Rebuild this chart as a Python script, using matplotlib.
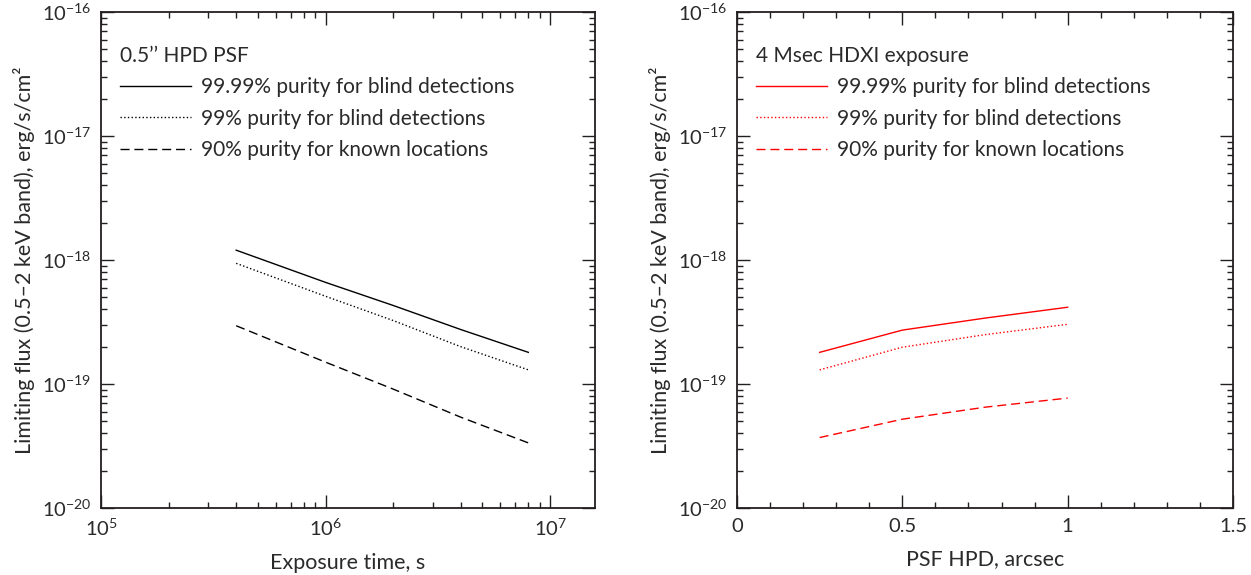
import numpy as np
import matplotlib
matplotlib.use("Agg")
import matplotlib.pyplot as plt
from matplotlib.ticker import LogLocator, MultipleLocator, FixedLocator, FixedFormatter

plt.rcParams['font.family'] = ['Lato', 'DejaVu Sans']
plt.rcParams['mathtext.fontset'] = 'custom'
plt.rcParams['mathtext.rm'] = 'Lato'
plt.rcParams['mathtext.it'] = 'Lato'
plt.rcParams['text.color'] = '#2a2a2a'
plt.rcParams['axes.labelcolor'] = '#2a2a2a'

# left panel: flux vs exposure time (0.5" HPD PSF)
exposure = [4e5, 1e6, 2e6, 4e6, 8e6]
flux_9999_t = [1.2e-18, 6.6e-19, 4.3e-19, 2.75e-19, 1.8e-19]
flux_99_t = [9.4e-19, 5.1e-19, 3.25e-19, 2.0e-19, 1.3e-19]
flux_90_t = [2.95e-19, 1.5e-19, 9.1e-20, 5.4e-20, 3.35e-20]

# right panel: flux vs PSF HPD (4 Msec exposure)
hpd = [0.25, 0.5, 0.75, 1.0]
flux_9999_p = [1.8e-19, 2.72e-19, 3.4e-19, 4.16e-19]
flux_99_p = [1.3e-19, 1.98e-19, 2.5e-19, 3.03e-19]
flux_90_p = [3.7e-20, 5.2e-20, 6.5e-20, 7.7e-20]

labels = ['99.99% purity for blind detections',
          '99% purity for blind detections',
          '90% purity for known locations']

ylab = 'Limiting flux (0.5\u20132 keV band), erg/s/cm\u00b2'
ytick_vals = [1e-20, 1e-19, 1e-18, 1e-17, 1e-16]
ytick_text = ['10$^{-20}$', '10$^{-19}$', '10$^{-18}$', '10$^{-17}$', '10$^{-16}$']

fig = plt.figure(figsize=(12.51, 5.75), dpi=100)
ax1 = fig.add_axes([101/1251, 1-508/575, 494/1251, 496/575])
ax2 = fig.add_axes([737/1251, 1-508/575, 496/1251, 496/575])


def style(ax):
    ax.set_yscale('log')
    ax.set_ylim(1e-20, 1e-16)
    ax.yaxis.set_major_locator(FixedLocator(ytick_vals))
    ax.yaxis.set_major_formatter(FixedFormatter(ytick_text))
    ax.yaxis.set_minor_locator(LogLocator(base=10, subs=np.arange(2, 10)))
    ax.yaxis.set_minor_formatter(plt.NullFormatter())
    ax.tick_params(which='both', direction='in', top=True, right=True,
                   width=1.0, colors='#231f20', labelsize=14.5, pad=7)
    ax.tick_params(which='both', labelcolor='#2a2a2a')
    ax.tick_params(which='major', length=9.5)
    ax.tick_params(which='minor', length=4.5)
    for s in ax.spines.values():
        s.set_linewidth(1.3)
        s.set_color('#231f20')
    ax.set_ylabel(ylab, fontsize=15.5, labelpad=5)


def add_legend(ax, title):
    leg = ax.legend(loc='upper left', bbox_to_anchor=(0.0, 0.97), title=title,
                    frameon=False, fontsize=15, title_fontsize=15,
                    handlelength=3.4, handletextpad=0.5, labelspacing=0.55,
                    alignment='left')
    return leg


style(ax1)
ax1.set_xscale('log')
ax1.set_xlim(1e5, 10**7.2)
ax1.xaxis.set_major_locator(FixedLocator([1e5, 1e6, 1e7]))
ax1.xaxis.set_major_formatter(FixedFormatter(['10$^{5}$', '10$^{6}$', '10$^{7}$']))
ax1.xaxis.set_minor_locator(LogLocator(base=10, subs=np.arange(2, 10)))
ax1.xaxis.set_minor_formatter(plt.NullFormatter())
ax1.plot(exposure, flux_9999_t, color='black', lw=1.0, label=labels[0])
ax1.plot(exposure, flux_99_t, color='black', lw=1.0, ls=':', label=labels[1])
ax1.plot(exposure, flux_90_t, color='black', lw=1.0, ls=(0, (6.5, 3.5)), label=labels[2])
ax1.set_xlabel('Exposure time, s', fontsize=15.5, labelpad=10)
add_legend(ax1, '0.5\u2019\u2019 HPD PSF')

style(ax2)
ax2.set_xlim(0, 1.5)
ax2.xaxis.set_major_locator(FixedLocator([0, 0.5, 1, 1.5]))
ax2.xaxis.set_major_formatter(FixedFormatter(['0', '0.5', '1', '1.5']))
ax2.xaxis.set_minor_locator(MultipleLocator(0.1))
ax2.plot(hpd, flux_9999_p, color='red', lw=1.0, label=labels[0])
ax2.plot(hpd, flux_99_p, color='red', lw=1.0, ls=':', label=labels[1])
ax2.plot(hpd, flux_90_p, color='red', lw=1.0, ls=(0, (6.5, 3.5)), label=labels[2])
ax2.set_xlabel('PSF HPD, arcsec', fontsize=15.5, labelpad=10)
add_legend(ax2, '4 Msec HDXI exposure')

fig.savefig('out.png', dpi=100)
